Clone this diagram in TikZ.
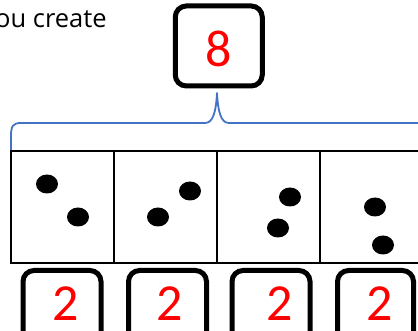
\documentclass[tikz,border=0pt]{standalone}
\usepackage{fontspec}
\usetikzlibrary{shapes.geometric}
\setmainfont{Open Sans}
\newfontfamily\digitfont{Carlito}
\definecolor{braceblue}{RGB}{68,114,196}
\definecolor{digitred}{RGB}{255,0,0}
\begin{document}
\begin{tikzpicture}[x=1pt,y=-1pt,
  numbox/.style={draw=black,line width=5pt,rounded corners=11pt,fill=white,inner sep=0pt},
  digit/.style={text=digitred,font=\digitfont\fontsize{52}{52}\selectfont,inner sep=0pt},
  dot/.style={fill=black,ellipse,minimum width=22pt,minimum height=19pt,inner sep=0pt},
  grid/.style={draw=black,line width=1.6pt},
  bracestyle/.style={draw=braceblue,line width=1.8pt,line cap=round,line join=round}]
\useasboundingbox (0,0) rectangle (418,331);
\clip (0,0) rectangle (418,331);
% top text
\node[anchor=base west,inner sep=0pt,font=\fontsize{25.5}{25.5}\selectfont] (txt) at (-5,28) {ou create};
% top box
\node[numbox,minimum width=87pt,minimum height=80pt] (top) at (218.75,46) {};
\node[digit] (eight) at (218.5,48.5) {8};
% brace
\draw[bracestyle] (11,151) -- (11,136) .. controls (11,126) and (13,123) .. (21,123)
  -- (205,123) .. controls (213,123) and (216,112) .. (217,93)
  .. controls (218,112) and (221,123) .. (229,123) -- (425,123);
% grid
\draw[grid] (430,151) -- (11,151) -- (11,263) -- (430,263);
\draw[grid] (114,151) -- (114,263);
\draw[grid] (217,151) -- (217,263);
\draw[grid] (320,151) -- (320,263);
% dots
\node[dot] (d1a) at (47,184) {};
\node[dot] (d1b) at (78,217) {};
\node[dot] (d2a) at (190,191) {};
\node[dot] (d2b) at (158,217) {};
\node[dot] (d3a) at (290,197) {};
\node[dot] (d3b) at (278,228) {};
\node[dot] (d4a) at (375,207) {};
\node[dot] (d4b) at (383,245) {};
% bottom boxes
\node[numbox,minimum width=78pt,minimum height=80pt] (b1) at (62,310.5) {};
\node[numbox,minimum width=78pt,minimum height=80pt] (b2) at (167.5,310.5) {};
\node[numbox,minimum width=78pt,minimum height=80pt] (b3) at (271,310.5) {};
\node[numbox,minimum width=76pt,minimum height=80pt] (b4) at (375.5,310.5) {};
\node[digit] (n1) at (66,304) {2};
\node[digit] (n2) at (169.5,304) {2};
\node[digit] (n3) at (280,304) {2};
\node[digit] (n4) at (380,304) {2};
\end{tikzpicture}
\end{document}
